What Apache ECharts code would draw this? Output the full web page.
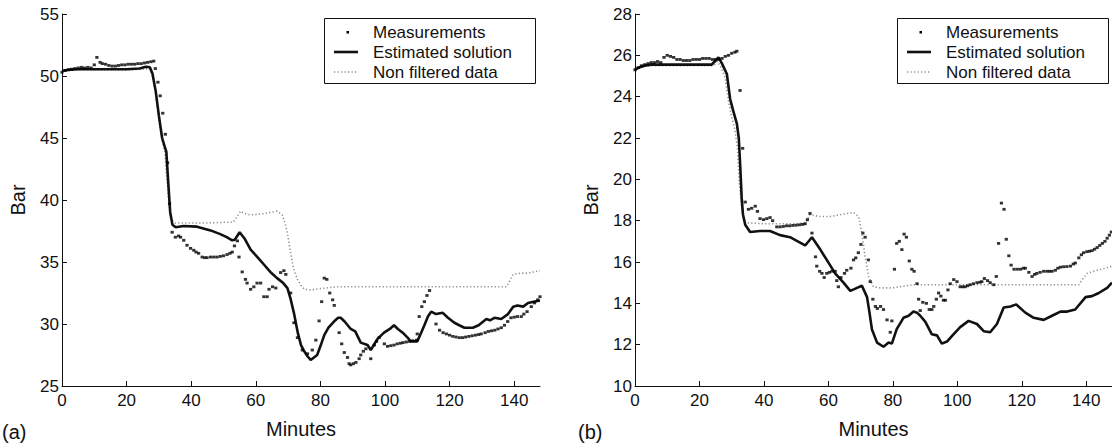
<!DOCTYPE html>
<html>
<head>
<meta charset="utf-8">
<script src="https://cdn.jsdelivr.net/npm/echarts@6/dist/echarts.min.js"></script>
<style>
html,body{margin:0;padding:0;background:#fff;}
#c{width:1112px;height:444px;}
</style>
</head>
<body>
<div id="c"></div>
<script>
// ---------- Data (minutes, bar) ----------
const xTicks = [0, 20, 40, 60, 80, 100, 120, 140];
const legendNames = ['Measurements', 'Estimated solution', 'Non filtered data'];

// Panel (a)
const measA = [[0,50.3],[1,50.45],[2,50.5],[3,50.55],[4,50.6],[5,50.65],[6,50.7],[7,50.65],[8,50.7],[9,50.65],[10,50.9],[10.8,51.5],[11.8,51.1],[12.5,51.0],[13.5,50.95],[14.5,50.85],[15.5,50.8],[16.5,50.8],[17.5,50.85],[18.5,50.9],[19.5,50.9],[20.5,50.95],[21.5,50.95],[22.5,50.95],[23.5,51.0],[24.5,51.0],[25.5,51.05],[26.5,51.1],[27.5,51.15],[28.4,51.2],[28.9,50.6],[29.7,49.5],[30.4,48.4],[31.2,47.0],[32,45.3],[32.7,43.0],[33.3,39.7],[34.1,37.4],[35.1,37.0],[36.1,37.1],[36.7,37.0],[37.7,36.75],[38.7,36.35],[39.8,36.1],[40.8,35.95],[41.5,35.8],[42.3,35.7],[43.4,35.4],[44.2,35.35],[44.9,35.35],[46,35.4],[47,35.4],[48,35.4],[49,35.45],[50,35.5],[51.1,35.6],[52,35.7],[52.7,35.8],[53.4,36.3],[54.3,36.7],[54.8,35.4],[55.8,34.2],[56.8,33.6],[57.3,33.3],[58.4,32.8],[59.4,33.0],[60.4,33.3],[61.5,33.3],[62.5,32.2],[63.5,32.2],[64.1,32.8],[65.2,33.0],[66.2,32.9],[67.7,34.15],[68.7,34.3],[69.3,34.0],[70.8,32.5],[71.8,30.1],[72.9,28.9],[74.4,27.9],[76,27.6],[77.5,27.9],[78.6,28.7],[79.6,30.25],[80.4,31.8],[81.2,33.7],[82,33.6],[82.9,32.5],[83.8,31.95],[84.3,31.5],[85.8,29.3],[86.6,28.4],[87.4,27.7],[88.4,27.3],[88.9,26.8],[89.4,26.7],[90.2,26.8],[91,26.9],[92,27.2],[92.5,27.5],[93.3,27.8],[94.1,28.0],[95.6,27.2],[96.7,28.3],[97.4,28.6],[98.2,28.9],[99.8,28.4],[100.8,28.2],[101.8,28.25],[102.8,28.3],[103.8,28.4],[104.8,28.45],[105.6,28.5],[106.6,28.55],[107.6,28.6],[108.6,28.65],[109.8,28.7],[110,29.2],[110.6,30.6],[111.4,31.4],[112.2,31.8],[113,32.3],[113.8,32.7],[115.8,30.0],[116.9,29.5],[118,29.3],[119,29.2],[120,29.1],[121,29.0],[122,28.95],[123,28.9],[124,28.9],[125,28.95],[126,29.0],[127,29.05],[128,29.1],[129,29.15],[129.8,29.2],[131,29.3],[132,29.4],[133,29.45],[134,29.5],[135,29.6],[136,29.7],[137,29.9],[138,30.2],[139,30.5],[140,30.55],[141,30.6],[142.2,30.6],[143,30.8],[144,31.0],[145.3,31.4],[146.3,31.7],[147.3,31.95],[148,32.2]];
const estA = [[0,50.4],[2,50.5],[5,50.55],[10,50.55],[15,50.55],[20,50.55],[24,50.6],[26,50.75],[27.2,50.7],[28,50.2],[29,48.8],[30,46.8],[31,45.0],[31.8,44.3],[32.3,43.9],[32.8,41.8],[33.5,39.0],[34.2,38.0],[35.2,37.8],[37.6,37.9],[41.8,37.85],[46,37.55],[49,37.25],[51,37.0],[52.7,36.75],[53.5,36.8],[55,37.4],[56.5,36.9],[58.4,36.0],[60.5,35.4],[62.5,34.8],[64.5,34.2],[66.6,33.7],[68.5,33.3],[69.8,32.9],[70.8,32.0],[71.8,30.9],[73,29.3],[74,28.3],[75,27.8],[76,27.4],[77,27.1],[78,27.3],[79,27.5],[80,28.2],[81.2,29.1],[82.5,29.7],[84.2,30.2],[85.5,30.5],[86.3,30.5],[87.5,30.2],[89.4,29.6],[90.8,29.4],[92.5,28.5],[94.6,28.3],[95.6,27.9],[96.5,28.3],[97.7,28.8],[99.7,29.3],[101.5,29.6],[102.8,29.9],[104,29.6],[105.5,29.3],[107,28.9],[108,28.6],[110,28.6],[111.2,29.3],[112.2,29.9],[113.3,30.6],[114.3,31.0],[115.8,30.8],[117.9,30.9],[119.5,30.5],[121.5,30.1],[123,29.9],[124.6,29.7],[127.2,29.7],[129,29.9],[131.4,30.4],[132.5,30.3],[133.9,30.5],[136,30.4],[138.1,30.8],[139.7,31.4],[141,31.5],[142.8,31.4],[144.3,31.7],[146,31.8],[148,31.9]];
const rawA = [[0,50.4],[5,50.5],[10,50.5],[15,50.5],[20,50.5],[25,50.55],[27,50.6],[28,50.1],[29,48.6],[30,46.5],[31,44.8],[31.8,44.0],[32.5,41.5],[33.2,39.5],[34,38.4],[35,38.15],[40,38.15],[45,38.15],[50,38.2],[53,38.2],[54.3,38.7],[55.3,39.1],[56.5,38.9],[58.4,38.8],[60.5,38.85],[62.5,38.9],[64.5,39.0],[66.6,39.1],[68.2,38.8],[69.2,38.0],[69.8,37.3],[70.3,36.5],[70.8,35.7],[71.3,35.0],[71.8,34.4],[72.9,33.6],[74,33.1],[75,32.8],[77,32.75],[80,32.85],[85,33.0],[90,33.0],[100,33.0],[110,33.0],[120,33.0],[130,33.0],[137.6,33.0],[138.7,33.5],[139.7,34.0],[142,34.1],[144.3,34.1],[146,34.2],[148,34.3]];

// Panel (b)
const measB = [[0,25.3],[1,25.4],[2,25.5],[3,25.55],[4,25.6],[5,25.65],[6,25.65],[7,25.7],[8,25.65],[9,25.9],[10,26.0],[11,25.95],[12,25.9],[13,25.8],[14,25.8],[15,25.75],[16,25.75],[17,25.75],[18,25.8],[19,25.8],[20,25.8],[21,25.85],[22,25.85],[23,25.85],[24,25.8],[25,25.8],[26,25.8],[27,25.85],[28,25.95],[29,26.0],[30,26.1],[31,26.15],[31.6,26.2],[32.6,24.3],[33.4,21.5],[34.2,18.9],[35.2,18.55],[36.2,18.6],[37.3,18.7],[38,18.45],[38.8,18.1],[39.9,18.05],[40.9,18.1],[41.9,18.15],[42.7,18.0],[44,17.7],[45,17.7],[46,17.72],[47,17.75],[48,17.75],[49,17.77],[50,17.78],[51,17.8],[52,17.82],[52.8,17.85],[53.5,18.05],[54.3,18.35],[54.9,17.4],[56,16.25],[56.4,15.8],[57.3,15.55],[58,15.45],[58.7,15.25],[59.5,15.45],[60.3,15.5],[61.1,15.55],[62.1,15.55],[62.6,15.1],[63.1,14.8],[63.9,15.25],[65,15.45],[65.7,15.6],[67,15.7],[67.8,16.1],[68.5,16.2],[69.3,16.45],[70.1,16.85],[70.7,17.4],[71.4,17.2],[72.4,16.1],[73,15.05],[73.8,14.2],[74.6,13.85],[75.2,13.75],[76.2,13.85],[77.1,13.7],[78.2,13.2],[79.2,12.6],[79.7,13.15],[80.5,15.65],[81.2,16.9],[82,17.0],[82.8,16.6],[83.5,17.35],[84.2,17.2],[85.1,16.05],[85.9,15.65],[86.6,15.55],[87.5,14.95],[88,14.2],[88.5,13.65],[89.3,14.05],[90.4,14.0],[91.3,13.7],[92.1,13.7],[92.7,13.85],[93.5,14.2],[94.2,14.5],[94.9,14.35],[95.7,14.15],[96.3,14.15],[97.1,14.65],[97.8,14.95],[98.9,15.15],[99.9,15.05],[100.9,14.8],[101.7,14.8],[102.4,14.8],[103.2,14.85],[104,14.9],[105,14.95],[106.1,15.0],[107,15.02],[107.6,15.05],[108.4,15.2],[109.4,15.1],[110.2,15.0],[111.3,14.9],[112.1,15.3],[112.8,16.9],[113.7,18.85],[114.5,18.55],[115.2,17.1],[116,16.3],[116.7,15.85],[117.6,15.65],[118.6,15.65],[119.6,15.65],[120.5,15.7],[121.1,15.7],[122.2,15.5],[123.2,15.3],[124,15.4],[124.7,15.45],[125.7,15.5],[126.8,15.55],[127.8,15.55],[128.6,15.55],[129.4,15.55],[130.4,15.6],[131.2,15.7],[132,15.75],[133,15.77],[134,15.78],[135.1,15.8],[136,15.9],[136.6,15.95],[137.7,16.2],[138.5,16.35],[139.2,16.45],[140.2,16.5],[141,16.52],[141.8,16.55],[142.6,16.62],[143.4,16.7],[144.2,16.8],[145,16.9],[145.8,17.0],[146.5,17.15],[147.2,17.3],[147.8,17.45]];
const estB = [[0,25.3],[1,25.4],[3,25.5],[5,25.55],[10,25.55],[15,25.55],[20,25.55],[23.8,25.55],[25,25.75],[25.9,25.9],[27,25.6],[28.5,25.1],[29.5,23.9],[30.5,23.3],[31.6,22.7],[32.2,22.0],[32.6,20.8],[33.1,19.1],[33.5,18.3],[34.2,17.8],[35.7,17.45],[38.8,17.5],[41.9,17.5],[45,17.3],[48.1,17.2],[50.5,17.0],[52.8,16.8],[54.9,17.2],[57.5,16.6],[59.5,16.1],[62.1,15.45],[64.7,15.0],[66.8,14.6],[68.9,14.75],[70.4,14.85],[72,14.3],[72.8,13.5],[73.5,12.75],[75.1,12.1],[77.1,11.9],[78.7,12.1],[79.7,12.05],[81.2,12.75],[83.3,13.3],[84.9,13.4],[86.4,13.6],[87.5,13.55],[88.5,13.4],[90.1,13.1],[92.1,12.5],[93.7,12.45],[95.2,12.05],[96.8,12.15],[98.8,12.5],[100.9,12.85],[103.5,13.15],[106.1,13.0],[108.2,12.65],[110.2,12.6],[112.3,13.0],[114.4,13.8],[116.5,13.85],[118.3,13.95],[121.1,13.55],[123.7,13.3],[126.8,13.2],[129.4,13.4],[132,13.6],[134.1,13.6],[136.6,13.7],[139.8,14.3],[141.8,14.35],[143.9,14.5],[146.5,14.75],[148,15.0]];
const rawB = [[0,25.3],[3,25.5],[10,25.5],[20,25.5],[24.5,25.5],[25.5,25.7],[26.5,25.5],[28,24.9],[29,23.8],[30,23.0],[31,22.4],[31.8,21.5],[32.4,19.8],[33,18.7],[33.8,18.0],[35,17.9],[40,17.85],[45,17.85],[50,17.85],[53,17.9],[54.3,18.3],[57,18.2],[60.6,18.2],[64,18.3],[67.8,18.4],[69.4,18.2],[70.4,17.4],[71.4,16.25],[72.5,15.3],[74,14.8],[76,14.75],[80,14.75],[86.4,14.9],[90,14.9],[100,14.9],[110,14.9],[120,14.9],[130,14.9],[137.7,14.9],[139,15.2],[140.3,15.45],[143.4,15.6],[146,15.7],[148,15.8]];

// ---------- Styling ----------
const FONT = '"Liberation Sans", Arial, Helvetica, sans-serif';
const INK = '#111';
const panels = [
  {left: 62, width: 478, yMin: 25, yMax: 55, yInt: 5, meas: measA, est: estA, raw: rawA, tag: '(a)', tagX: 2, legendX: 324},
  {left: 635, width: 477, yMin: 10, yMax: 28, yInt: 2, meas: measB, est: estB, raw: rawB, tag: '(b)', tagX: 578, legendX: 897}
];
const TOP = 14, HEIGHT = 377;

const grid = [], xAxis = [], yAxis = [], series = [], graphic = [];
panels.forEach((p, i) => {
  grid.push({left: p.left, top: TOP, width: p.width, height: HEIGHT, containLabel: false});
  xAxis.push({
    type: 'value', gridIndex: i, min: 0, max: 148, interval: 20,
    name: 'Minutes', nameLocation: 'middle', nameGap: 33,
    nameTextStyle: {fontFamily: FONT, fontSize: 20, color: INK},
    axisLine: {lineStyle: {color: INK, width: 1}},
    axisTick: {inside: true, length: 5, lineStyle: {color: INK}, customValues: xTicks},
    axisLabel: {fontFamily: FONT, fontSize: 17, color: INK, margin: 6, customValues: xTicks},
    splitLine: {show: false}
  });
  yAxis.push({
    type: 'value', gridIndex: i, min: p.yMin, max: p.yMax, interval: p.yInt,
    name: 'Bar', nameLocation: 'middle', nameGap: 34,
    nameTextStyle: {fontFamily: FONT, fontSize: 20, color: INK},
    axisLine: {show: true, lineStyle: {color: INK, width: 1}},
    axisTick: {show: true, inside: true, length: 5, lineStyle: {color: INK}},
    axisLabel: {fontFamily: FONT, fontSize: 17, color: INK, margin: 3},
    splitLine: {show: false}
  });
  series.push({
    name: legendNames[2], type: 'line', xAxisIndex: i, yAxisIndex: i, data: p.raw,
    showSymbol: false, symbol: 'none', z: 2,
    lineStyle: {color: '#8c8c8c', width: 1.6, type: [1.2, 2.3]}
  });
  series.push({
    name: legendNames[1], type: 'line', xAxisIndex: i, yAxisIndex: i, data: p.est,
    showSymbol: false, symbol: 'none', z: 3, smooth: false,
    lineStyle: {color: INK, width: 2.6}
  });
  series.push({
    name: legendNames[0], type: 'scatter', xAxisIndex: i, yAxisIndex: i, data: p.meas,
    symbol: 'rect', symbolSize: [3.2, 2.8], z: 4,
    itemStyle: {color: '#000'}
  });
  // panel tag
  graphic.push({type: 'text', left: p.tagX, top: 422, style: {text: p.tag, font: '20px ' + FONT, fill: INK}});
  // legend box
  const lx = p.legendX, ly = 18;
  graphic.push({type: 'rect', shape: {x: lx + 0.5, y: ly + 0.5, width: 211, height: 65}, style: {fill: '#fff', stroke: INK, lineWidth: 1}, z: 10});
  // measurement dot
  graphic.push({type: 'rect', shape: {x: lx + 22.5, y: ly + 13, width: 2.5, height: 2.5}, style: {fill: '#000'}, z: 11});
  // solid line
  graphic.push({type: 'line', shape: {x1: lx + 10, y1: ly + 34, x2: lx + 34, y2: ly + 34}, style: {stroke: INK, lineWidth: 2.6}, z: 11});
  // dotted line
  graphic.push({type: 'line', shape: {x1: lx + 10, y1: ly + 54, x2: lx + 34, y2: ly + 54}, style: {stroke: '#8c8c8c', lineWidth: 1.6, lineDash: [1.2, 2.3]}, z: 11});
  legendNames.forEach((n, k) => {
    graphic.push({type: 'text', x: lx + 49, y: ly + 14 + k * 20, z: 11,
      style: {text: n, font: '17px ' + FONT, fill: INK, verticalAlign: 'middle', align: 'left'}});
  });
});

const chart = echarts.init(document.getElementById('c'), null, {renderer: 'svg', width: 1112, height: 444});
chart.setOption({
  animation: false,
  backgroundColor: '#fff',
  grid, xAxis, yAxis, series, graphic
});
</script>
</body>
</html>
